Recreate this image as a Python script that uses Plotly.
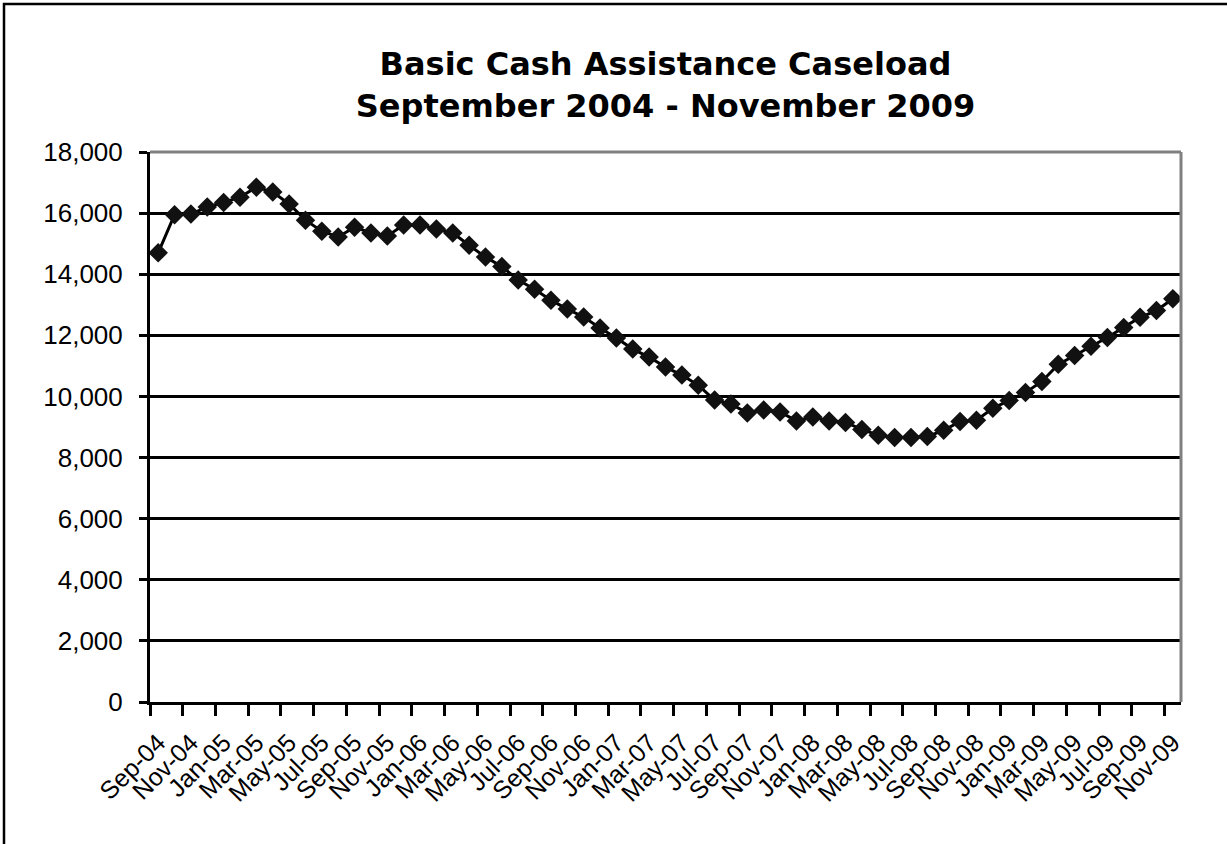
import plotly.graph_objects as go

months = ["Sep-04", "Oct-04", "Nov-04", "Dec-04",
          "Jan-05", "Feb-05", "Mar-05", "Apr-05", "May-05", "Jun-05", "Jul-05", "Aug-05", "Sep-05", "Oct-05", "Nov-05", "Dec-05",
          "Jan-06", "Feb-06", "Mar-06", "Apr-06", "May-06", "Jun-06", "Jul-06", "Aug-06", "Sep-06", "Oct-06", "Nov-06", "Dec-06",
          "Jan-07", "Feb-07", "Mar-07", "Apr-07", "May-07", "Jun-07", "Jul-07", "Aug-07", "Sep-07", "Oct-07", "Nov-07", "Dec-07",
          "Jan-08", "Feb-08", "Mar-08", "Apr-08", "May-08", "Jun-08", "Jul-08", "Aug-08", "Sep-08", "Oct-08", "Nov-08", "Dec-08",
          "Jan-09", "Feb-09", "Mar-09", "Apr-09", "May-09", "Jun-09", "Jul-09", "Aug-09", "Sep-09", "Oct-09", "Nov-09"]

caseload = [14700, 15950, 15970, 16200,
            16350, 16520, 16850, 16690, 16300, 15770, 15410, 15220, 15540, 15350, 15250, 15610,
            15610, 15480, 15350, 14950, 14560, 14250, 13810, 13510, 13150, 12860, 12600, 12240,
            11910, 11550, 11290, 10960, 10700, 10370, 9880, 9750, 9460, 9560, 9490, 9200,
            9330, 9200, 9150, 8920, 8730, 8660, 8660, 8690, 8890, 9180, 9220, 9610,
            9870, 10130, 10490, 11050, 11340, 11640, 11930, 12260, 12590, 12810, 13200]

y_ticks = list(range(0, 18001, 2000))

title_text = "Basic Cash Assistance Caseload<br>September 2004 - November 2009"

fig = go.Figure()
fig.add_trace(go.Scatter(
    x=months, y=caseload, mode="lines+markers",
    line=dict(color="#000000", width=3),
    marker=dict(symbol="diamond", size=15, color="#111111"),
    showlegend=False, hoverinfo="x+y",
))

W, H = 1227, 844
ml, mr, mt, mb = 150, 46, 152, 142
pw, ph = W - ml - mr, H - mt - mb

fig.update_layout(
    width=W, height=H,
    margin=dict(l=ml, r=mr, t=mt, b=mb, pad=0),
    paper_bgcolor="white", plot_bgcolor="white",
    font=dict(family="Liberation Sans, Arial, sans-serif", color="black"),
    title=dict(text=title_text, x=0.5, xref="paper", xanchor="center",
               y=1 - 75 / H, yref="container", yanchor="middle",
               font=dict(family="DejaVu Sans, Liberation Sans, Arial", size=32, color="black", weight="bold")),
    xaxis=dict(type="category", tickmode="linear", tick0=0, dtick=2,
               tickson="boundaries", range=[-0.5, len(months) - 0.5],
               showgrid=False, showline=True, linecolor="black", linewidth=3,
               ticks="outside", ticklen=11, tickwidth=3, tickcolor="black",
               tickangle=-45, tickfont=dict(size=25), ticklabelstandoff=13,
               zeroline=False),
    yaxis=dict(range=[0, 18000], tickvals=y_ticks, tickformat=",d",
               showgrid=True, gridcolor="black", gridwidth=2.5,
               showline=True, linecolor="black", linewidth=3,
               ticks="outside", ticklen=8, tickwidth=3, tickcolor="black",
               tickfont=dict(size=26), ticklabelstandoff=11, zeroline=False),
)

# gray plot-area border (top and right)
fig.add_shape(type="line", xref="paper", yref="paper", x0=0, x1=1, y0=1, y1=1,
              line=dict(color="#808080", width=3), layer="above")
fig.add_shape(type="line", xref="paper", yref="paper", x0=1, x1=1, y0=0, y1=1,
              line=dict(color="#808080", width=3), layer="above")
# outer chart border
fig.add_shape(type="rect", xref="paper", yref="paper",
              x0=(4 - ml) / pw, x1=(W + 20 - ml) / pw,
              y0=(H - mb - (H + 20)) / ph, y1=(H - mb - 4) / ph,
              line=dict(color="black", width=2.5), fillcolor="rgba(0,0,0,0)", layer="below")

fig.write_html("out.html", config={"displayModeBar": False},
               post_script="document.body.style.margin='0';")
